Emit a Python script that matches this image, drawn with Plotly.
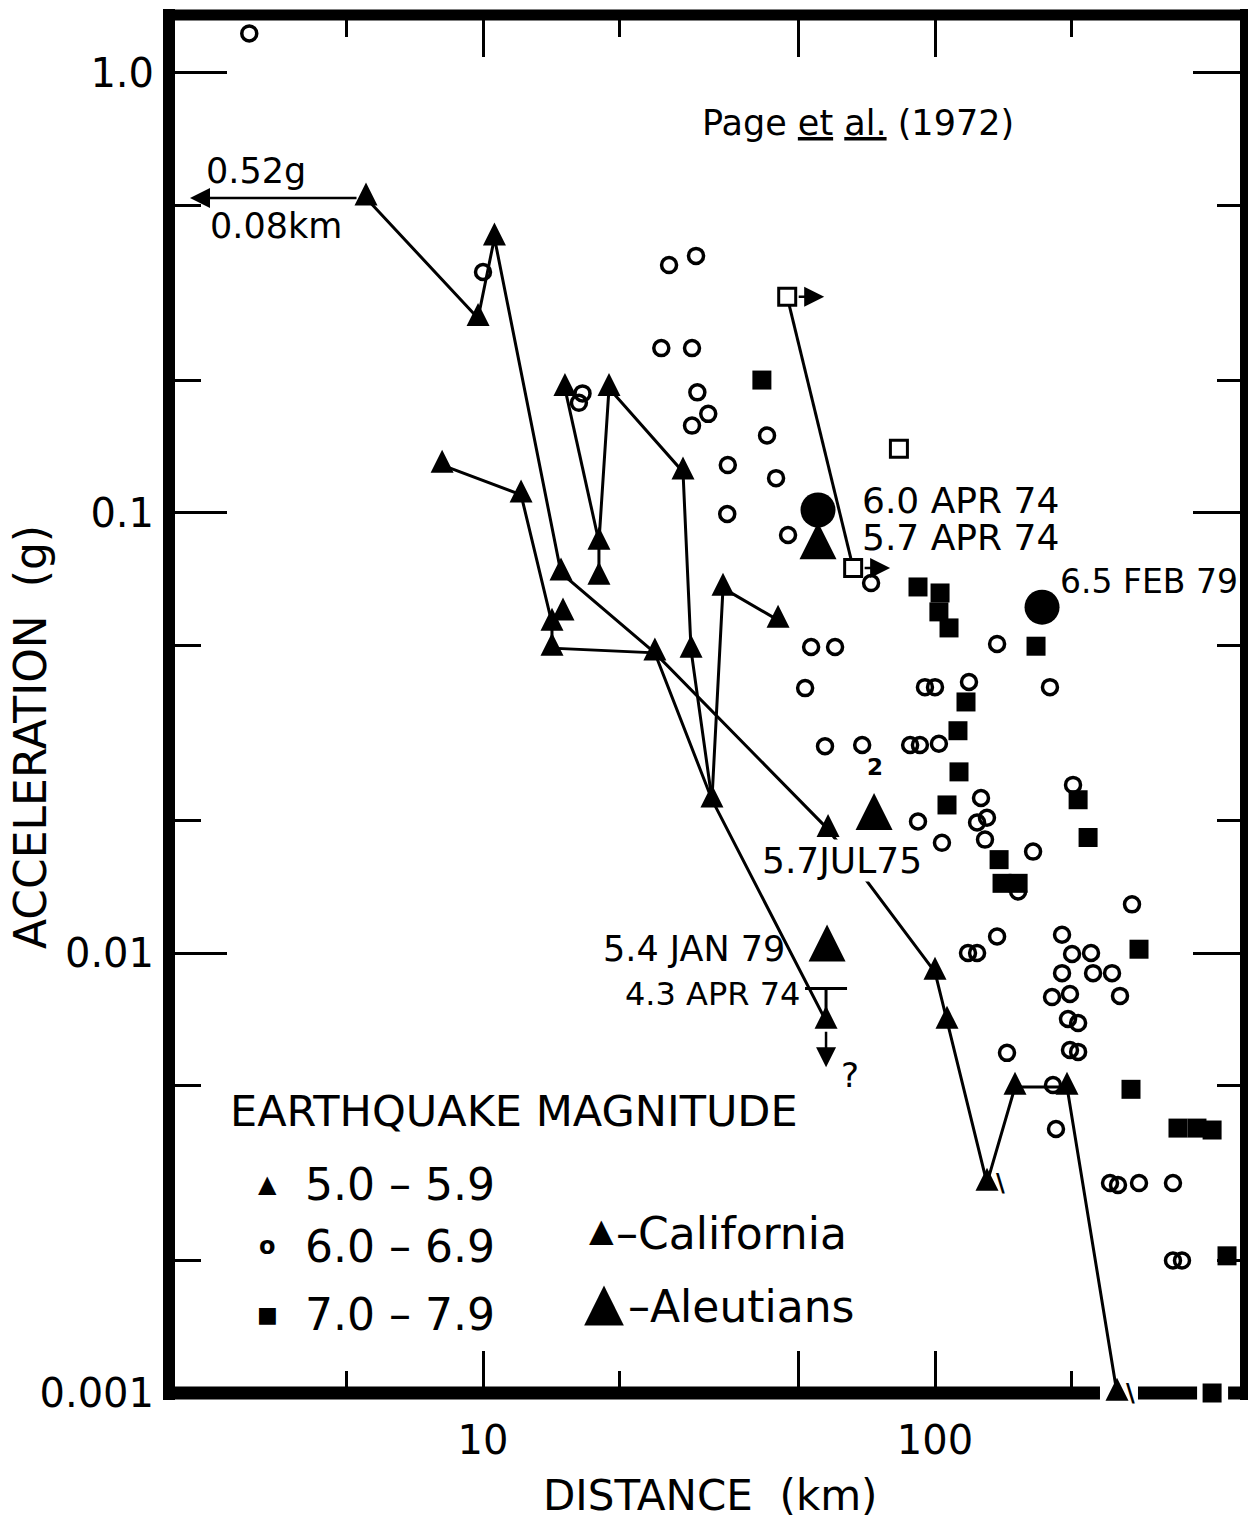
import numpy as np
import plotly.graph_objects as go

FONT = "DejaVu Sans"
INK = "black"

# ---------------------------------------------------------------
# Peak acceleration (g) versus distance (km)
# ---------------------------------------------------------------

# California records, magnitude 5.0-5.9 (small filled triangles)
cal_dist = [5.51, 9.75, 10.6, 8.12, 12.14, 15.18, 19.0, 18.05, 18.05, 14.88,
            27.7, 15.03, 14.21, 14.21, 24.0, 28.86, 33.96, 44.95, 32.1, 58.0,
            57.4, 100.0, 106.3, 130.3, 150.3, 195.9, 252.7]
cal_acc = [0.52, 0.277, 0.422, 0.1285, 0.110, 0.192, 0.192, 0.0859, 0.0715, 0.0731,
           0.124, 0.0593, 0.0562, 0.0493, 0.0481, 0.0488, 0.0675, 0.0571, 0.0223, 0.0191,
           0.0070, 0.00905, 0.0070, 0.0030, 0.00496, 0.00496, 0.001]
# stations of one sequence are joined (indices into the California lists)
cal_paths = [
    [0, 1, 2, 9, 14, 19, 21, 22, 23, 24, 25, 26],
    [3, 4, 12, 13, 14, 18, 20],
    [5, 7],
    [8, 7, 6, 10, 15, 18],
    [17, 16, 18],
]
# records drawn with a break tick (true value lies lower)
cal_broken = [23, 26]

# the first California record is off scale: 0.52 g at 0.08 km
offscale_acc = 0.52
offscale_dist_km = 0.08

# magnitude 6.0-6.9 (open circles)
m6_dist = [3.04, 10.0, 25.8, 29.6, 24.8, 29.0, 16.6, 16.3, 29.8, 31.5,
           29.0, 42.5, 34.8, 44.5, 34.7, 47.3, 72.2, 53.2, 60.1, 137.2,
           51.6, 95.0, 100.0, 118.9, 179.6, 57.1, 69.0, 88.1, 92.6, 102.0,
           202.0, 126.4, 91.7, 123.9, 130.3, 129.0, 103.6, 164.8, 152.7, 272.8,
           137.2, 118.3, 123.9, 191.0, 201.0, 221.4, 191.0, 223.7, 246.4, 181.5,
           198.9, 256.6, 196.9, 207.3, 198.9, 207.3, 144.3, 182.4, 185.2, 243.9,
           254.0, 282.7, 336.1, 336.1, 351.9]
m6_acc = [1.23, 0.353, 0.366, 0.384, 0.237, 0.237, 0.187, 0.178, 0.188, 0.168,
          0.158, 0.150, 0.1285, 0.120, 0.0995, 0.0891, 0.0693, 0.0496, 0.0496, 0.0504,
          0.0400, 0.0402, 0.0402, 0.0413, 0.0402, 0.0295, 0.0297, 0.0297, 0.0297, 0.0299,
          0.0241, 0.0225, 0.0199, 0.0198, 0.0203, 0.0181, 0.0178, 0.0170, 0.0138, 0.0129,
          0.0109, 0.0100, 0.0100, 0.0110, 0.00995, 0.0100, 0.0090, 0.0090, 0.0090, 0.00794,
          0.00807, 0.00799, 0.00708, 0.00693, 0.00602, 0.00596, 0.00593, 0.00501, 0.00398, 0.0030,
          0.00297, 0.0030, 0.0030, 0.0020, 0.0020]
m6_double = 26          # point standing for two records
m6_double_text = "2"

# magnitude 7.0-7.9 (filled squares)
m7_dist = [41.4, 91.7, 102.6, 102.0, 107.4, 167.3, 117.1, 112.4, 113.0, 106.3,
           207.3, 218.1, 138.6, 140.7, 152.7, 282.7, 271.4, 344.8, 379.8, 410.2,
           442.6, 410.2]
m7_acc = [0.2005, 0.0679, 0.0658, 0.0596, 0.0548, 0.0498, 0.0372, 0.0320, 0.0258, 0.0217,
          0.0223, 0.0183, 0.0163, 0.0144, 0.0144, 0.0102, 0.0049, 0.0040, 0.0040, 0.00396,
          0.00205, 0.001]

# Page et al. (1972) records (open squares); the first two lie farther out
page_dist = [47.1, 65.9, 83.2]
page_acc = [0.310, 0.0750, 0.140]
page_path = [0, 1]
page_farther = [0, 1]

# Aleutian events (large triangles)
aleut_dist = [55.1, 73.3, 57.7]
aleut_acc = [0.0837, 0.0203, 0.0102]
aleut_text = ["5.7 APR 74", "5.7JUL75", "5.4 JAN 79"]

# larger events drawn as large filled circles
big_dist = [55.1, 172.5]
big_acc = [0.1016, 0.0611]
big_text = ["6.0 APR 74", "6.5 FEB 79"]

# magnitude 4.3 event: upper bound over a California station
apr74_dist = 57.4
apr74_bound = 0.0083
apr74_text = "4.3 APR 74"
apr74_station = 20

# axis ticks
x_major = [10, 50, 100]
x_major_text = ["10", "", "100"]
x_minor = [5, 20, 200]
y_major = [1, 0.1, 0.01, 0.001]
y_major_text = ["1.0", "0.1", "0.01", "0.001"]
y_minor = [0.5, 0.2, 0.05, 0.02, 0.005, 0.002]

# ---------------------------------------------------------------
# panel geometry
# ---------------------------------------------------------------
W, H = 1248, 1521
ML, MR, MT, MB = 169, 4, 15, 128
PW, PH = W - ML - MR, H - MT - MB
XR = [0.3053, 2.6836]
YR = [-3.0, 0.1318]
DX = (XR[1] - XR[0]) / PW     # log10 units per pixel
DY = (YR[1] - YR[0]) / PH


def lg(v):
    return float(np.log10(v))


def fx(px):
    return (px - ML) / PW


def fy(py):
    return (MT + PH - py) / PH


def xfrac(d):
    return (lg(d) - XR[0]) / (XR[1] - XR[0])


fig = go.Figure()

line_style = dict(color=INK, width=3)

# connecting lines
for path in cal_paths:
    fig.add_trace(go.Scatter(
        x=[cal_dist[i] for i in path], y=[cal_acc[i] for i in path],
        mode="lines", line=line_style, cliponaxis=False, hoverinfo="skip"))

fig.add_trace(go.Scatter(
    x=[apr74_dist, cal_dist[apr74_station]], y=[apr74_bound, cal_acc[apr74_station]],
    mode="lines", line=line_style, cliponaxis=False, hoverinfo="skip"))

fig.add_trace(go.Scatter(
    x=[page_dist[i] for i in page_path], y=[page_acc[i] for i in page_path],
    mode="lines", line=line_style, cliponaxis=False, hoverinfo="skip"))


def triangle(size):
    # upward triangle centred on the point (arrow glyph turned over)
    return dict(symbol="arrow-down", angle=180, standoff=size * 2 / 3,
                size=size, color=INK)


# markers
fig.add_trace(go.Scatter(
    x=m6_dist, y=m6_acc, mode="markers", cliponaxis=False,
    marker=dict(symbol="circle-open", size=15, color=INK,
                line=dict(width=3.5, color=INK))))

fig.add_trace(go.Scatter(
    x=m7_dist, y=m7_acc, mode="markers", cliponaxis=False,
    marker=dict(symbol="square", size=19, color=INK)))

fig.add_trace(go.Scatter(
    x=page_dist, y=page_acc, mode="markers", cliponaxis=False,
    marker=dict(symbol="square", size=17, color="white",
                line=dict(width=3, color=INK))))

fig.add_trace(go.Scatter(
    x=cal_dist, y=cal_acc, mode="markers", cliponaxis=False,
    marker=triangle(23)))

fig.add_trace(go.Scatter(
    x=aleut_dist, y=aleut_acc, mode="markers", cliponaxis=False,
    marker=triangle(37)))

fig.add_trace(go.Scatter(
    x=big_dist, y=big_acc, mode="markers", cliponaxis=False,
    marker=dict(symbol="circle", size=35, color=INK)))

fig.add_trace(go.Scatter(
    x=[apr74_dist], y=[apr74_bound], mode="markers", cliponaxis=False,
    marker=dict(symbol="line-ew", size=30, color=INK,
                line=dict(width=3, color=INK))))

# empty trace that carries the mirrored top / right axes
fig.add_trace(go.Scatter(x=[], y=[], xaxis="x2", yaxis="y2"))


def note(x, y, text, size, xanchor="center", xshift=0, yshift=0, **kw):
    fig.add_annotation(x=lg(x), y=lg(y), xref="x", yref="y", text=text,
                       showarrow=False, xanchor=xanchor, yanchor="middle",
                       xshift=xshift, yshift=yshift,
                       font=dict(family=FONT, size=size, color=INK), **kw)


def paper_note(px, py, text, size, xanchor="center", **kw):
    fig.add_annotation(x=fx(px), y=fy(py), xref="paper", yref="paper", text=text,
                       showarrow=False, xanchor=xanchor, yanchor="middle",
                       font=dict(family=FONT, size=size, color=INK), **kw)


def arrow(x0, y0, x1, y1, gap):
    fig.add_annotation(x=lg(x1), y=lg(y1), ax=lg(x0), ay=lg(y0),
                       xref="x", yref="y", axref="x", ayref="y", text="",
                       showarrow=True, arrowhead=2, arrowsize=1.6, arrowwidth=2.5,
                       arrowcolor=INK, startstandoff=gap, standoff=0)


# off-scale record pointing to the axis
tip_x = 10 ** (XR[0] + 21 * DX)
arrow(cal_dist[0], cal_acc[0], tip_x, offscale_acc, 8)
note(tip_x, offscale_acc, f"{offscale_acc:.2f}g", 35, "left", 14, 27)
note(tip_x, offscale_acc, f"{offscale_dist_km:.2f}km", 35, "left", 18, -28)

# Page et al. records lying beyond the plotted distance
for i in page_farther:
    tip = 10 ** (lg(page_dist[i]) + 37 * DX)
    arrow(page_dist[i], page_acc[i], tip, page_acc[i], 10)

# upper bound and uncertain value below the 4.3 event
st_x, st_y = cal_dist[apr74_station], cal_acc[apr74_station]
low = 10 ** (lg(st_y) - 46 * DY)
arrow(st_x, st_y, st_x, low, 9)
note(st_x, low, "?", 34, "center", 24, -8)
note(apr74_dist, apr74_bound, apr74_text, 32, "right", -24, -5)

# break ticks on records whose value lies lower
for i in cal_broken:
    note(cal_dist[i], cal_acc[i], "<b>\\</b>", 24, "center", 14, 0)

# event labels
note(big_dist[0], big_acc[0], big_text[0], 36, "left", 42, 9)
note(aleut_dist[0], aleut_acc[0], aleut_text[0], 36, "left", 42, 10)
note(big_dist[1], big_acc[1], big_text[1], 33, "left", 16, 26)
note(aleut_dist[1], aleut_acc[1], aleut_text[1], 36, "left", -113, -43,
     bgcolor="white", borderpad=0)
note(aleut_dist[2], aleut_acc[2], aleut_text[2], 35, "right", -40, 0)
note(m6_dist[m6_double], m6_acc[m6_double], "<b>" + m6_double_text + "</b>",
     23, "center", 13, -22)

# source note
paper_note(700, 123, "Page <u>et</u> <u>al.</u> (1972)", 35, "left")

# key
paper_note(228, 1111, "EARTHQUAKE MAGNITUDE", 43, "left")
key_rows = [("\u25B2", 24, 1184, "5.0 \u2013 5.9"),
            ("<b>o</b>", 24, 1246, "6.0 \u2013 6.9"),
            ("\u25A0", 22, 1314, "7.0 \u2013 7.9")]
for glyph, gsize, py, txt in key_rows:
    paper_note(267, py, glyph, gsize, "center")
    paper_note(303, py, txt, 44, "left")
paper_note(601, 1230, "\u25B2", 32, "center")
paper_note(614, 1233, "\u2013California", 44, "left")
paper_note(604, 1301, "\u25B2", 52, "center")
paper_note(626, 1306, "\u2013Aleutians", 44, "left")

# axis titles
paper_note(30, 737, "ACCELERATION  (g)", 44, "center", textangle=-90)
paper_note(710, 1495, "DISTANCE  (km)", 42, "center")

# heavy frame; the base line is broken around records at the floor
frame = dict(type="line", xref="paper", yref="paper", layer="above")
fig.add_shape(**frame, x0=0, x1=0, y0=-7 / PH, y1=1 + 6 / PH,
              line=dict(color=INK, width=12))
fig.add_shape(**frame, x0=-6 / PW, x1=1 + 4 / PW, y0=1, y1=1,
              line=dict(color=INK, width=11))
fig.add_shape(**frame, x0=1, x1=1, y0=-7 / PH, y1=1 + 6 / PH,
              line=dict(color=INK, width=8))
t_floor = xfrac(cal_dist[26])
s_floor = xfrac(m7_dist[21])
bottom = [(-6 / PW, t_floor - 17 / PW),
          (t_floor + 21 / PW, s_floor - 15 / PW),
          (s_floor + 16 / PW, 1 + 4 / PW)]
for a, b in bottom:
    fig.add_shape(**frame, x0=a, x1=b, y0=0, y1=0,
                  line=dict(color=INK, width=13))

tick_common = dict(ticks="inside", tickwidth=3, tickcolor=INK, showgrid=False,
                   zeroline=False, showline=False, automargin=False)

fig.update_layout(
    width=W, height=H,
    margin=dict(l=ML, r=MR, t=MT, b=MB, pad=0),
    paper_bgcolor="white", plot_bgcolor="white",
    showlegend=False, hovermode=False,
    font=dict(family=FONT, color=INK),
    xaxis=dict(type="log", range=XR, tickmode="array", tickvals=x_major,
               ticktext=x_major_text, ticklen=42,
               tickfont=dict(family=FONT, size=40, color=INK),
               ticklabelstandoff=20,
               minor=dict(tickmode="array", tickvals=x_minor, ticks="inside",
                          ticklen=22, tickwidth=3, tickcolor=INK, showgrid=False),
               **tick_common),
    yaxis=dict(type="log", range=YR, tickmode="array", tickvals=y_major,
               ticktext=y_major_text, ticklen=58,
               tickfont=dict(family=FONT, size=40, color=INK),
               ticklabelstandoff=14,
               minor=dict(tickmode="array", tickvals=y_minor, ticks="inside",
                          ticklen=32, tickwidth=3, tickcolor=INK, showgrid=False),
               **tick_common),
    xaxis2=dict(type="log", range=XR, overlaying="x", side="top", anchor="y2",
                tickmode="array", tickvals=x_major, ticklen=42, showticklabels=False,
                minor=dict(tickmode="array", tickvals=x_minor, ticks="inside",
                           ticklen=22, tickwidth=3, tickcolor=INK, showgrid=False),
                **tick_common),
    yaxis2=dict(type="log", range=YR, overlaying="y", side="right", anchor="x2",
                tickmode="array", tickvals=y_major[:-1], ticklen=51,
                showticklabels=False,
                minor=dict(tickmode="array", tickvals=y_minor, ticks="inside",
                           ticklen=27, tickwidth=3, tickcolor=INK, showgrid=False),
                **tick_common),
)

fig.write_html("out.html")
